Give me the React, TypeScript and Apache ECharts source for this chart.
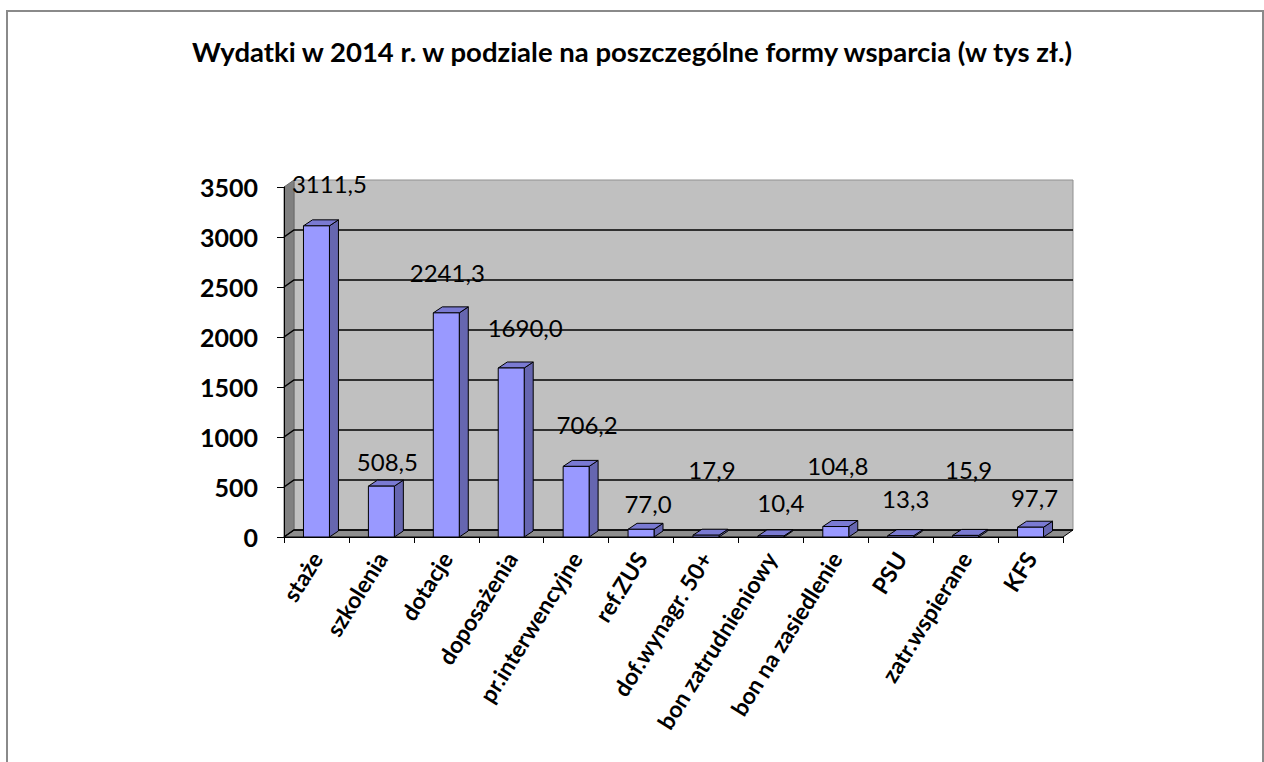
import React, { useEffect, useRef } from "react";
import * as echarts from "echarts";

const categories = [
  "staże",
  "szkolenia",
  "dotacje",
  "doposażenia",
  "pr.interwencyjne",
  "ref.ZUS",
  "dof.wynagr. 50+",
  "bon zatrudnieniowy",
  "bon na zasiedlenie",
  "PSU",
  "zatr.wspierane",
  "KFS",
];
const values = [3111.5, 508.5, 2241.3, 1690.0, 706.2, 77.0, 17.9, 10.4, 104.8, 13.3, 15.9, 97.7];
const yTicks = [0, 500, 1000, 1500, 2000, 2500, 3000, 3500];

// label nudges (style only): [dx from bar centre, dy from bar top]
const labelNudge: [number, number][] = [
  [13, -42], [6, -25], [1, -40], [14, -41], [11, -42], [7, -26],
  [6, -66], [10, -33], [2, -61], [5, -37], [3, -66], [4, -30],
];

const FONT = "Lato, 'Open Sans', sans-serif";
const DX = 10, DY = -7; // wall depth
const BDX = 9, BDY = -6; // bar depth

export default function App() {
  const ref = useRef<HTMLDivElement>(null);
  useEffect(() => {
    if (!ref.current) return;
    const chart = echarts.init(ref.current, null, { renderer: "svg" });
    const fmt = (v: number) => v.toFixed(1).replace(".", ",");
    chart.setOption({
      animation: false,
      backgroundColor: "#ffffff",
      title: {
        text: "Wydatki w 2014 r. w podziale na poszczególne formy wsparcia (w tys zł.)",
        left: "center",
        top: 32,
        textStyle: { fontFamily: FONT, fontWeight: "bold", fontSize: 27.5, color: "#000" },
      },
      graphic: [
        {
          type: "rect",
          shape: { x: 7, y: 11, width: 1256, height: 800 },
          style: { fill: "none", stroke: "#8a8a8a", lineWidth: 2 },
          silent: true,
        },
      ],
      grid: { left: 284, right: 201, top: 187, bottom: 225 },
      xAxis: {
        type: "category",
        data: categories,
        z: 5,
        axisLine: { show: true, lineStyle: { color: "#000", width: 1 } },
        axisTick: { show: true, length: 6, lineStyle: { color: "#000" } },
        axisLabel: {
          rotate: 58,
          interval: 0,
          margin: 17,
          fontFamily: FONT,
          fontWeight: "bold",
          fontSize: 23,
          color: "#000",
        },
      },
      yAxis: {
        type: "value",
        min: 0,
        max: 3500,
        interval: 500,
        z: 5,
        axisLine: { show: true, lineStyle: { color: "#000", width: 1 } },
        axisTick: { show: true, length: 7, lineStyle: { color: "#000" } },
        splitLine: { show: false },
        axisLabel: {
          margin: 26,
          formatter: (v: number) => String(v),
          fontFamily: FONT,
          fontWeight: "bold",
          fontSize: 25,
          color: "#000",
        },
      },
      series: [
        {
          type: "custom",
          name: "walls",
          z: 1,
          silent: true,
          clip: false,
          data: [[0, 0]],
          renderItem: (params: any, api: any) => {
            const cs = params.coordSys;
            const x0 = cs.x, x1 = cs.x + cs.width;
            const yT = cs.y, yB = cs.y + cs.height;
            const children: any[] = [];
            children.push({
              type: "rect",
              shape: { x: x0 + DX, y: yT + DY, width: x1 - x0, height: yB - yT },
              style: { fill: "#c0c0c0", stroke: "#909090", lineWidth: 1 },
            });
            children.push({
              type: "polygon",
              shape: { points: [[x0, yT], [x0 + DX, yT + DY], [x0 + DX, yB + DY], [x0, yB]] },
              style: { fill: "#808080", stroke: "#6a6a6a", lineWidth: 1 },
            });
            children.push({
              type: "polygon",
              shape: { points: [[x0, yB], [x0 + DX, yB + DY], [x1 + DX, yB + DY], [x1, yB]] },
              style: { fill: "#8e8e8e", stroke: "#000", lineWidth: 1 },
            });
            yTicks.forEach((t, i) => {
              if (i === yTicks.length - 1) return;
              const y = api.coord([0, t])[1];
              children.push({
                type: "polyline",
                shape: { points: [[x0, y], [x0 + DX, y + DY], [x1 + DX, y + DY]] },
                style: { stroke: "#000", lineWidth: 1.5, fill: "none" },
              });
            });
            return { type: "group", children };
          },
        },
        {
          type: "custom",
          name: "Wydatki",
          z: 3,
          clip: false,
          data: values.map((v, i) => [i, v]),
          encode: { x: 0, y: 1 },
          renderItem: (params: any, api: any) => {
            const i = api.value(0);
            const v = api.value(1);
            const top = api.coord([i, v]);
            const base = api.coord([i, 0]);
            const w = api.size([1, 0])[0] * 0.4;
            const x = top[0] - w / 2;
            const yT = top[1], yB = base[1];
            const nudge = labelNudge[params.dataIndex] || [0, -30];
            return {
              type: "group",
              children: [
                {
                  type: "polygon",
                  shape: { points: [[x + w, yT], [x + w + BDX, yT + BDY], [x + w + BDX, yB + BDY], [x + w, yB]] },
                  style: { fill: "#6666b0", stroke: "#000", lineWidth: 1 },
                },
                {
                  type: "polygon",
                  shape: { points: [[x, yT], [x + BDX, yT + BDY], [x + w + BDX, yT + BDY], [x + w, yT]] },
                  style: { fill: "#7a7ad2", stroke: "#000", lineWidth: 1 },
                },
                {
                  type: "rect",
                  shape: { x, y: yT, width: w, height: yB - yT },
                  style: { fill: "#9999ff", stroke: "#000", lineWidth: 1 },
                },
                {
                  type: "text",
                  x: top[0] + nudge[0],
                  y: yT + nudge[1],
                  style: {
                    text: fmt(v),
                    fontFamily: FONT,
                    fontSize: 24,
                    fill: "#000",
                    align: "center",
                    verticalAlign: "middle",
                  },
                },
              ],
            };
          },
        },
      ],
    });
    return () => chart.dispose();
  }, []);
  return (
    <div
      ref={ref}
      style={{ position: "fixed", left: 0, top: 0, width: 1264, height: 762 }}
    />
  );
}
